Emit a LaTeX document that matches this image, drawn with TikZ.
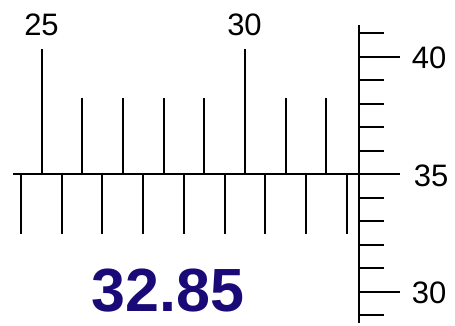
\documentclass[tikz,border=0pt]{standalone}
\usepackage{fontspec}
\setmainfont{Liberation Sans}
\definecolor{inkblue}{HTML}{1A0A78}
\tikzset{
  scaleline/.style={line width=2pt, black},
  lbl/.style={font=\fontsize{31}{31}\selectfont, inner sep=0pt},
  hand/.style={font=\bfseries\fontsize{61}{61}\selectfont, text=inkblue, inner sep=0pt, anchor=base}
}
\begin{document}
\begin{tikzpicture}[x=1pt,y=-1pt]
\useasboundingbox (0,0) rectangle (455,325);
% main horizontal line
\coordinate (hl) at (13,174);
\coordinate (hr) at (400,174);
\draw[scaleline] (hl) -- (hr);
% vertical line
\coordinate (vt) at (358.5,25);
\coordinate (vb) at (358.5,323);
\draw[scaleline] (vt) -- (vb);
% upper ticks
\foreach \i in {0,...,7} {
  \pgfmathsetmacro{\xx}{41.7+40.65*\i}
  \ifnum\i=0 \def\top{49}\else\ifnum\i=5 \def\top{49}\else\def\top{97.5}\fi\fi
  \coordinate (ut\i) at (\xx,174);
  \coordinate (utt\i) at (\xx,\top);
  \draw[scaleline] (ut\i) -- (utt\i);
}
% lower ticks
\foreach \i in {0,...,8} {
  \pgfmathsetmacro{\xx}{21+40.7*\i}
  \coordinate (lt\i) at (\xx,174);
  \coordinate (ltb\i) at (\xx,234);
  \draw[scaleline] (lt\i) -- (ltb\i);
}
% right ticks
\foreach \yy/\len in {33/384, 56.5/400, 80/384, 103.5/384, 127/384, 150.5/384, 197.5/384, 221/384, 244.5/384, 268/384, 291.5/400, 315/384} {
  \coordinate (rs) at (358.5,\yy);
  \coordinate (re) at (\len,\yy);
  \draw[scaleline] (rs) -- (re);
}
% labels
\node[lbl] (l25) at (41.5,25) {25};
\node[lbl] (l30) at (244.5,25) {30};
\node[lbl] (l40) at (429,58) {40};
\node[lbl] (l35) at (431,176) {35};
\node[lbl] (l30b) at (429,292.5) {30};
\node[hand] (reading) at (168,311) {32.85};
\end{tikzpicture}
\end{document}
